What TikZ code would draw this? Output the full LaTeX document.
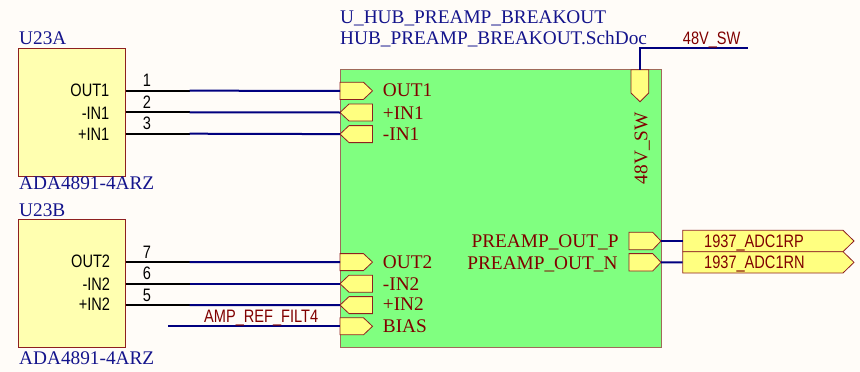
\documentclass[tikz,border=0pt]{standalone}
\usepackage{fontspec}
\setmainfont{Liberation Serif}
\newfontfamily\pinfont[FakeStretch=0.81]{Liberation Sans}
\definecolor{pagebg}{HTML}{FFFCF8}
\definecolor{navytext}{HTML}{14148C}
\definecolor{wireblue}{HTML}{00007F}
\definecolor{darkred}{HTML}{800000}
\definecolor{edgered}{HTML}{8E2020}
\definecolor{partfill}{HTML}{FFFFB0}
\definecolor{portfill}{HTML}{FFFF80}
\definecolor{sheetfill}{HTML}{80FF80}
\definecolor{sheetedge}{HTML}{A06A5A}
\tikzset{
  partbox/.style={draw=edgered,line width=0.9pt,fill=partfill,rectangle,inner sep=0pt,outer sep=0pt,anchor=north west},
  sheetbox/.style={draw=sheetedge,line width=1pt,fill=sheetfill,rectangle,inner sep=0pt,outer sep=0pt,anchor=north west},
  porta/.style={draw=edgered,line width=0.8pt,fill=portfill},
  wire/.style={draw=wireblue,line width=2pt},
  pinline/.style={draw=black,line width=2pt},
  refdes/.style={font=\fontsize{19.3}{21}\selectfont,text=navytext,inner sep=0pt,anchor=base west},
  portlabel/.style={font=\fontsize{19.3}{21}\selectfont,text=darkred,inner sep=0pt},
  pinname/.style={font=\pinfont\fontsize{18}{20}\selectfont,text=black,inner sep=0pt,anchor=base east},
  pinnum/.style={font=\pinfont\fontsize{18}{20}\selectfont,text=black,inner sep=0pt,anchor=base},
  netlabel/.style={font=\pinfont\fontsize{18}{20}\selectfont,text=darkred,inner sep=0pt},
}
% right-pointing port: name, x0, shoulder, tip, ytop, ybottom
\newcommand{\rport}[6]{%
  \draw[porta] (#2,#5) -- (#3,#5) -- (#4,{(#5+#6)/2}) -- (#3,#6) -- (#2,#6) -- cycle;
  \coordinate (#1w) at (#2,{(#5+#6)/2});
  \coordinate (#1e) at (#4,{(#5+#6)/2});
}
% left-pointing port: name, tip, shoulder, x1, ytop, ybottom
\newcommand{\lport}[6]{%
  \draw[porta] (#2,{(#5+#6)/2}) -- (#3,#5) -- (#4,#5) -- (#4,#6) -- (#3,#6) -- cycle;
  \coordinate (#1w) at (#2,{(#5+#6)/2});
}
\begin{document}
\begin{tikzpicture}[x=1pt,y=-1pt]
\useasboundingbox[fill=pagebg] (0,0) rectangle (860,372);

% parts and sheet symbol
\node[partbox,minimum width=107pt,minimum height=127.6pt] (u23a) at (18.7,48.7) {};
\node[partbox,minimum width=107pt,minimum height=128.4pt] (u23b) at (18.7,219.3) {};
\node[sheetbox,minimum width=321pt,minimum height=278pt] (sheet) at (340,69.8) {};

% junctions between pin stubs and wires
\coordinate (a1s) at (125.7,90.7);  \coordinate (a1j) at (189.5,90.7);
\coordinate (a2s) at (125.7,112.3); \coordinate (a2j) at (189.5,112.3);
\coordinate (a3s) at (125.7,133.7); \coordinate (a3j) at (189.5,133.7);
\coordinate (b1s) at (125.7,262);   \coordinate (b1j) at (189.5,262);
\coordinate (b2s) at (125.7,283.7); \coordinate (b2j) at (189.5,283.7);
\coordinate (b3s) at (125.7,305);   \coordinate (b3j) at (189.5,305);
\coordinate (biasfree) at (168,326.3);
\coordinate (swcorner) at (640,48);
\coordinate (swfree) at (747.7,48);

% ports
\rport{pa1}{340}{363.5}{372.5}{82.3}{99.4}
\lport{pa2}{340}{349}{372.5}{104}{121}
\lport{pa3}{340}{349}{372.5}{125.6}{142.6}
\rport{pb1}{340}{363.5}{372.5}{253.6}{270.6}
\lport{pb2}{340}{349}{372.5}{275.2}{292.2}
\lport{pb3}{340}{349}{372.5}{296.6}{313.6}
\rport{pbias}{340}{363.5}{372.5}{317.8}{334.8}
\rport{pp}{629}{652.7}{661}{232.3}{249.7}
\rport{pn}{629}{652.7}{661}{253.6}{271}
\draw[porta] (631,69.8) -- (648.7,69.8) -- (648.7,93) -- (640,101.7) -- (631,93) -- cycle;
\coordinate (psw) at (640,69.8);
\rport{op}{682.7}{843}{854}{230.3}{251.7}
\rport{on}{682.7}{843}{854}{251.7}{273}

% connectors
\draw[pinline] (a1s) -- (a1j);
\draw[pinline] (a2s) -- (a2j);
\draw[pinline] (a3s) -- (a3j);
\draw[pinline] (b1s) -- (b1j);
\draw[pinline] (b2s) -- (b2j);
\draw[pinline] (b3s) -- (b3j);
\draw[wire] (a1j) -- (pa1w);
\draw[wire] (a2j) -- (pa2w);
\draw[wire] (a3j) -- (pa3w);
\draw[wire] (b1j) -- (pb1w);
\draw[wire] (b2j) -- (pb2w);
\draw[wire] (b3j) -- (pb3w);
\draw[wire] (biasfree) -- (pbiasw);
\draw[wire] (ppe) -- (opw);
\draw[wire] (pne) -- (onw);
\draw[wire] (psw) -- (swcorner) -- (swfree);

% designators
\node[refdes] (t1) at (19,44) {U23A};
\node[refdes] (t2) at (19,189.5) {ADA4891-4ARZ};
\node[refdes] (t3) at (19,216) {U23B};
\node[refdes] (t4) at (19,364.7) {ADA4891-4ARZ};
\node[refdes] (t5) at (340,23.3) {U\_HUB\_PREAMP\_BREAKOUT};
\node[refdes] (t6) at (340,44.3) {HUB\_PREAMP\_BREAKOUT.SchDoc};

% pin names
\node[pinname] (n1) at (109.5,96.7) {OUT1};
\node[pinname] (n2) at (109.5,119) {-IN1};
\node[pinname] (n3) at (109.5,140) {+IN1};
\node[pinname] (n4) at (110.3,267.7) {OUT2};
\node[pinname] (n5) at (110.3,290) {-IN2};
\node[pinname] (n6) at (110.3,310.7) {+IN2};

% pin numbers
\node[pinnum] (m1) at (147,86) {1};
\node[pinnum] (m2) at (147,108) {2};
\node[pinnum] (m3) at (147,129) {3};
\node[pinnum] (m4) at (147,258) {7};
\node[pinnum] (m5) at (147,279.3) {6};
\node[pinnum] (m6) at (147,301) {5};

% port labels
\node[portlabel,anchor=base west] (l1) at (382.7,96.7) {OUT1};
\node[portlabel,anchor=base west] (l2) at (382.7,119.3) {+IN1};
\node[portlabel,anchor=base west] (l3) at (382.7,140) {-IN1};
\node[portlabel,anchor=base west] (l4) at (382.7,268.7) {OUT2};
\node[portlabel,anchor=base west] (l5) at (382.7,290) {-IN2};
\node[portlabel,anchor=base west] (l6) at (382.7,310.7) {+IN2};
\node[portlabel,anchor=base west] (l7) at (382.7,332.7) {BIAS};
\node[portlabel,anchor=base east] (l8) at (618.7,247.7) {PREAMP\_OUT\_P};
\node[portlabel,anchor=base east] (l9) at (617.7,269) {PREAMP\_OUT\_N};
\node[portlabel,anchor=base west,rotate=90] (l10) at (647.3,184.3) {48V\_SW};

% net labels
\node[netlabel,anchor=base west] (x1) at (682.7,44) {48V\_SW};
\node[netlabel,anchor=base west] (x2) at (204,322.3) {AMP\_REF\_FILT4};
\node[netlabel,anchor=base west] (x3) at (704,247.7) {1937\_ADC1RP};
\node[netlabel,anchor=base west] (x4) at (704,268.3) {1937\_ADC1RN};
\end{tikzpicture}
\end{document}
